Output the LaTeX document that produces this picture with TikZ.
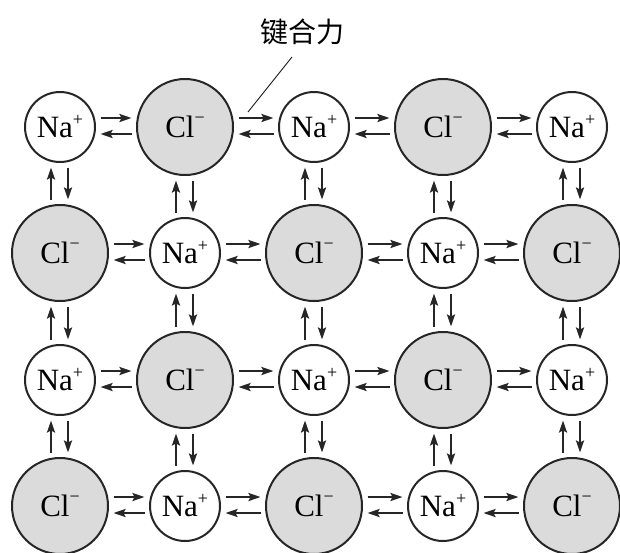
\documentclass[tikz,border=0pt]{standalone}
\usepackage{fontspec}
\setmainfont{Liberation Serif}
\newfontfamily\cjk{Noto Sans CJK SC}
\usetikzlibrary{arrows.meta}
\tikzset{
  ion/.style={circle, draw=black!85, line width=2pt, inner sep=0pt,
    font=\fontsize{31}{33}\selectfont},
  na/.style={ion, minimum size=70pt, fill=white},
  cl/.style={ion, minimum size=96pt, fill=black!14},
  arr/.style={line width=2pt, draw=black!85, -{Stealth[length=12pt,width=8pt,inset=2pt]},
    shorten <=4.5pt, shorten >=4.5pt},
}
\newcommand{\Nap}{Na\raisebox{12pt}{\fontsize{18}{18}\selectfont +}}
\newcommand{\Clm}{Cl\raisebox{14pt}{\fontsize{18}{18}\selectfont −}}
\newcommand{\hpair}[2]{%
  \draw[arr] ([yshift=9pt]#1.east) -- ([yshift=9pt]#2.west);
  \draw[arr] ([yshift=-7pt]#2.west) -- ([yshift=-7pt]#1.east);}
\newcommand{\vpair}[2]{%
  \draw[arr] ([xshift=-9pt]#2.north) -- ([xshift=-9pt]#1.south);
  \draw[arr] ([xshift=8pt]#1.south) -- ([xshift=8pt]#2.north);}
\begin{document}
\begin{tikzpicture}[x=1pt,y=1pt]
\useasboundingbox (0,0) rectangle (620,-552);
% row 1
\node[na] (a1) at (60,-127) {\Nap};
\node[cl] (a2) at (185,-127) {\Clm};
\node[na] (a3) at (314,-127) {\Nap};
\node[cl] (a4) at (443,-127) {\Clm};
\node[na] (a5) at (572,-127) {\Nap};
% row 2
\node[cl] (b1) at (60,-253) {\Clm};
\node[na] (b2) at (185,-253) {\Nap};
\node[cl] (b3) at (314,-253) {\Clm};
\node[na] (b4) at (443,-253) {\Nap};
\node[cl] (b5) at (572,-253) {\Clm};
% row 3
\node[na] (c1) at (60,-380) {\Nap};
\node[cl] (c2) at (185,-380) {\Clm};
\node[na] (c3) at (314,-380) {\Nap};
\node[cl] (c4) at (443,-380) {\Clm};
\node[na] (c5) at (572,-380) {\Nap};
% row 4
\node[cl] (d1) at (60,-506) {\Clm};
\node[na] (d2) at (185,-506) {\Nap};
\node[cl] (d3) at (314,-506) {\Clm};
\node[na] (d4) at (443,-506) {\Nap};
\node[cl] (d5) at (572,-506) {\Clm};
% horizontal pairs
\foreach \r in {a,b,c,d}{
  \hpair{\r1}{\r2}\hpair{\r2}{\r3}\hpair{\r3}{\r4}\hpair{\r4}{\r5}
}
% vertical pairs
\foreach \c in {1,...,5}{
  \vpair{a\c}{b\c}\vpair{b\c}{c\c}\vpair{c\c}{d\c}
}
% label
\node[font=\cjk\fontsize{28}{30}\selectfont, inner sep=1pt] (lbl) at (302,-32) {键合力};
\coordinate (lp) at (248,-112);
\draw[line width=1pt, black!85] (292,-57) -- (lp);
\end{tikzpicture}
\end{document}
